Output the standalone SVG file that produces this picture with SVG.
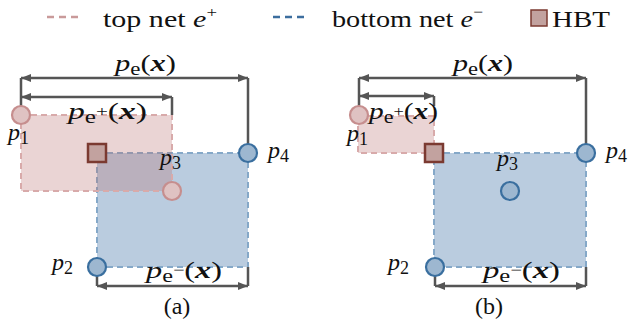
<svg xmlns="http://www.w3.org/2000/svg" width="628" height="329" viewBox="0 0 628 329">
<defs>
<marker id="ah" viewBox="0 0 10 8" refX="10" refY="4" markerWidth="10" markerHeight="8" markerUnits="userSpaceOnUse" orient="auto-start-reverse">
<path d="M0,0 L10,4 L0,8 z" fill="#555"/>
</marker>
<style>
.t{font-family:"Liberation Serif","Times New Roman",Times,serif;font-size:24px;fill:#111}
.it{font-style:italic}
.bi{font-style:italic;font-weight:bold}
.sub{font-size:18px}
.sup{font-size:15px}
.top{fill:#b87070;fill-opacity:0.3;stroke:#d8aaaa;stroke-width:2;stroke-dasharray:6,4}
.bot{fill:#3f73a6;fill-opacity:0.36;stroke:#85a8c8;stroke-width:2;stroke-dasharray:6,4}
.pc{fill:#dfc2c2;stroke:#c68e8e;stroke-width:2.2}
.bc{fill:#9db7d0;stroke:#3a6f9f;stroke-width:2.2}
.hbt{fill:#c2a29f;stroke:#7b3a31;stroke-width:2.5}
.tick{stroke:#555;stroke-width:2.5;fill:none}
.arr{stroke:#555;stroke-width:2.5;fill:none;marker-start:url(#ah);marker-end:url(#ah)}
</style>
</defs>
<rect width="628" height="329" fill="#fff"/>

<g id="legend">
<line x1="47" y1="17" x2="82" y2="17" stroke="#c99a9a" stroke-width="2.5" stroke-dasharray="7,5"/>
<text class="t" x="103" y="27" textLength="114" lengthAdjust="spacingAndGlyphs">top net <tspan class="it">e</tspan><tspan class="sup" dy="-10">+</tspan></text>
<line x1="273" y1="17" x2="308" y2="17" stroke="#3c6e9e" stroke-width="2.5" stroke-dasharray="7,5"/>
<text class="t" x="332" y="27" textLength="151" lengthAdjust="spacingAndGlyphs">bottom net <tspan class="it">e</tspan><tspan class="sup" dy="-10">−</tspan></text>
<rect x="531" y="10" width="16" height="16" fill="#c2a29f" stroke="#7b3a31" stroke-width="1.5"/>
<text class="t" x="552" y="27" textLength="58" lengthAdjust="spacingAndGlyphs">HBT</text>
</g>

<!-- panel (a) -->
<g id="a-bottom-net"><rect class="bot" x="97" y="153" width="151" height="114"/></g>
<g id="a-top-net"><rect class="top" x="21" y="115" width="151" height="76"/></g>

<g id="connectors">
<path class="tick" d="M21,78 V106 M248,78 V144 M172,97 V115 M97,276 V286 M248,267 V286"/>
<line class="arr" x1="21" y1="78" x2="248" y2="78"/>
<line class="arr" x1="21" y1="97" x2="172" y2="97"/>
<line class="arr" x1="97" y1="286" x2="248" y2="286"/>
<path class="tick" d="M359,78 V106 M586,78 V144 M434,96 V106 M435,276 V286 M586,267 V286"/>
<line class="arr" x1="359" y1="78" x2="586" y2="78"/>
<line class="arr" x1="359" y1="96" x2="434" y2="96"/>
<line class="arr" x1="435" y1="286" x2="586" y2="286"/>
</g>

<g id="a-p1"><circle class="pc" cx="21" cy="115" r="9"/><text class="t" x="8" y="140"><tspan class="it">p</tspan><tspan class="sub" dy="4">1</tspan></text></g>
<g id="a-p3"><circle class="pc" cx="172" cy="191" r="9"/><text class="t" x="160" y="165"><tspan class="it">p</tspan><tspan class="sub" dy="4">3</tspan></text></g>
<g id="a-p4"><circle class="bc" cx="248" cy="153" r="9"/><text class="t" x="268" y="158"><tspan class="it">p</tspan><tspan class="sub" dy="4">4</tspan></text></g>
<g id="a-p2"><circle class="bc" cx="97" cy="267" r="9"/><text class="t" x="52" y="270"><tspan class="it">p</tspan><tspan class="sub" dy="4">2</tspan></text></g>
<g id="a-hbt"><rect class="hbt" x="88" y="144" width="18" height="18"/></g>

<g id="a-labels">
<text class="t" x="115" y="71" textLength="61" lengthAdjust="spacingAndGlyphs"><tspan class="it">p</tspan><tspan class="sub" dy="4">e</tspan><tspan dy="-4">(</tspan><tspan class="bi">x</tspan>)</text>
<text class="t" x="68" y="119" textLength="79" lengthAdjust="spacingAndGlyphs"><tspan class="it">p</tspan><tspan class="sub" dy="4">e</tspan><tspan class="sup" dy="-7">+</tspan><tspan dy="3">(</tspan><tspan class="bi">x</tspan>)</text>
<text class="t" x="146" y="278" textLength="76" lengthAdjust="spacingAndGlyphs"><tspan class="it">p</tspan><tspan class="sub" dy="4">e</tspan><tspan class="sup" dy="-7">−</tspan><tspan dy="3">(</tspan><tspan class="bi">x</tspan>)</text>
<text class="t" x="177" y="314" text-anchor="middle">(a)</text>
</g>

<!-- panel (b) -->
<g id="b-bottom-net"><rect class="bot" x="434" y="153" width="152" height="114"/></g>
<g id="b-top-net"><rect class="top" x="358" y="116" width="76" height="37"/></g>

<g id="b-p1"><circle class="pc" cx="359" cy="115" r="9"/><text class="t" x="347" y="141"><tspan class="it">p</tspan><tspan class="sub" dy="4">1</tspan></text></g>
<g id="b-p3"><circle class="bc" cx="510" cy="191" r="9"/><text class="t" x="497" y="166"><tspan class="it">p</tspan><tspan class="sub" dy="4">3</tspan></text></g>
<g id="b-p4"><circle class="bc" cx="586" cy="153" r="9"/><text class="t" x="606" y="158"><tspan class="it">p</tspan><tspan class="sub" dy="4">4</tspan></text></g>
<g id="b-p2"><circle class="bc" cx="435" cy="267" r="9"/><text class="t" x="388" y="270"><tspan class="it">p</tspan><tspan class="sub" dy="4">2</tspan></text></g>
<g id="b-hbt"><rect class="hbt" x="425" y="144" width="18" height="18"/></g>

<g id="b-labels">
<text class="t" x="453" y="71" textLength="60" lengthAdjust="spacingAndGlyphs"><tspan class="it">p</tspan><tspan class="sub" dy="4">e</tspan><tspan dy="-4">(</tspan><tspan class="bi">x</tspan>)</text>
<text class="t" x="369" y="119" textLength="69" lengthAdjust="spacingAndGlyphs"><tspan class="it">p</tspan><tspan class="sub" dy="4">e</tspan><tspan class="sup" dy="-7">+</tspan><tspan dy="3">(</tspan><tspan class="bi">x</tspan>)</text>
<text class="t" x="483" y="278" textLength="77" lengthAdjust="spacingAndGlyphs"><tspan class="it">p</tspan><tspan class="sub" dy="4">e</tspan><tspan class="sup" dy="-7">−</tspan><tspan dy="3">(</tspan><tspan class="bi">x</tspan>)</text>
<text class="t" x="489" y="314" text-anchor="middle">(b)</text>
</g>
</svg>
